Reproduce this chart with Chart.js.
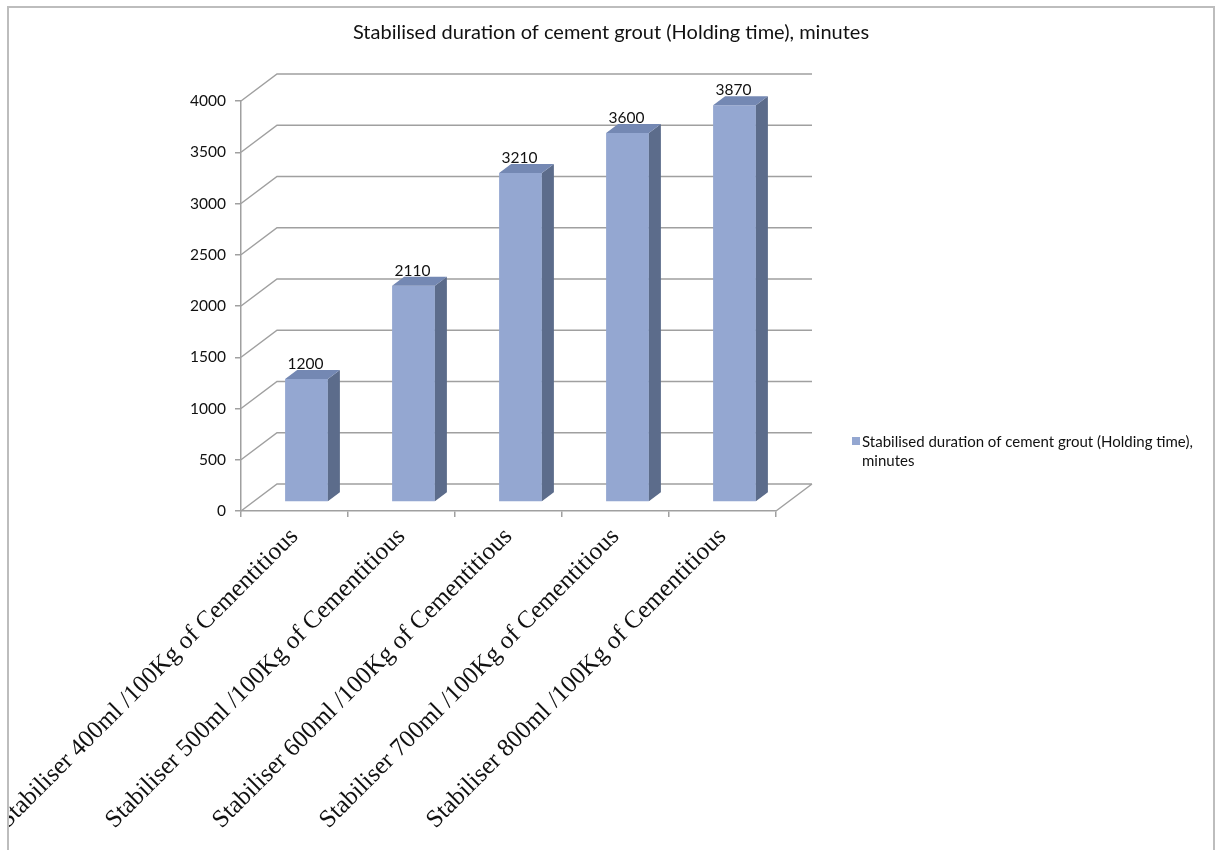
<!DOCTYPE html>
<html>
<head>
<meta charset="utf-8">
<script src="https://cdn.jsdelivr.net/npm/chart.js@4.4.1/dist/chart.umd.min.js"></script>
<style>
  html, body { margin: 0; padding: 0; background: #fff; overflow: hidden; }
  #frame { position: absolute; left: 7px; top: 6px; width: 1204px; height: 844px;
           border: 2px solid #bdbdbd; border-bottom: none; }
  #chart { display: block; }
</style>
</head>
<body>
<div id="frame"><canvas id="chart" width="1204" height="844"></canvas></div>
<script>
// ── Dados ──────────────────────────────────────────────────────────────────────
const categories = [
  'Stabiliser 400ml /100Kg of Cementitious',
  'Stabiliser 500ml /100Kg of Cementitious',
  'Stabiliser 600ml /100Kg of Cementitious',
  'Stabiliser 700ml /100Kg of Cementitious',
  'Stabiliser 800ml /100Kg of Cementitious',
];
const holdingTime = [1200, 2110, 3210, 3600, 3870];
const seriesName  = 'Stabilised duration of cement grout (Holding time), minutes';

// ── Estilo ─────────────────────────────────────────────────────────────────────
const SANS  = "Lato, 'Open Sans', sans-serif";
const SERIF = "'Liberation Serif', 'DejaVu Serif', serif";
const INK   = '#111';
const GRID  = '#a0a0a0';
const FRONT = '#94a7d1';
const SIDE  = '#5c6c8b';
const TOP   = '#7488b3';
const DEPTH = { x: 36, y: -27 };  // profundidade das paredes
const SHIFT = { x: 12, y: -9 };   // barras a um terço da profundidade
const BAR_D = { x: 12, y: -9 };   // profundidade da barra

// ── Paredes, faces laterais e rótulos (efeito 3D) ─────────────────────────────
const box3d = {
  id: 'box3d',
  beforeDatasetsDraw(chart) {
    const { ctx, chartArea: a, scales: { y } } = chart;
    ctx.save();
    ctx.strokeStyle = GRID;
    ctx.lineWidth = 1.5;
    ctx.beginPath();
    y.ticks.forEach(t => {
      const py = y.getPixelForValue(t.value);
      ctx.moveTo(a.left, py);
      ctx.lineTo(a.left + DEPTH.x, py + DEPTH.y);
      ctx.lineTo(a.right + DEPTH.x, py + DEPTH.y);
    });
    ctx.moveTo(a.right, a.bottom);
    ctx.lineTo(a.right + DEPTH.x, a.bottom + DEPTH.y);
    ctx.stroke();
    ctx.restore();
    ctx.save();
    ctx.translate(SHIFT.x, SHIFT.y);
  },
  afterDatasetsDraw(chart) {
    const { ctx } = chart;
    ctx.restore();
    const meta = chart.getDatasetMeta(0);
    ctx.save();
    meta.data.forEach((el, i) => {
      const w  = el.width;
      const x0 = el.x - w / 2 + SHIFT.x, x1 = el.x + w / 2 + SHIFT.x;
      const y0 = el.y + SHIFT.y,         y1 = el.base + SHIFT.y;
      ctx.fillStyle = SIDE;
      ctx.beginPath();
      ctx.moveTo(x1, y0);
      ctx.lineTo(x1 + BAR_D.x, y0 + BAR_D.y);
      ctx.lineTo(x1 + BAR_D.x, y1 + BAR_D.y);
      ctx.lineTo(x1, y1);
      ctx.closePath();
      ctx.fill();
      ctx.fillStyle = TOP;
      ctx.beginPath();
      ctx.moveTo(x0, y0);
      ctx.lineTo(x0 + BAR_D.x, y0 + BAR_D.y);
      ctx.lineTo(x1 + BAR_D.x, y0 + BAR_D.y);
      ctx.lineTo(x1, y0);
      ctx.closePath();
      ctx.fill();
      ctx.fillStyle = INK;
      ctx.font = `15.5px ${SANS}`;
      ctx.textAlign = 'center';
      ctx.textBaseline = 'alphabetic';
      ctx.fillText(String(holdingTime[i]), el.x + SHIFT.x - 1, y0 + BAR_D.y - 1);
    });
    ctx.restore();
  },
};

// ── Título centrado na tela e legenda em duas linhas ──────────────────────────
const frameText = {
  id: 'frameText',
  afterDraw(chart) {
    const { ctx, width } = chart;
    ctx.save();
    ctx.fillStyle = INK;
    ctx.font = `20px ${SANS}`;
    ctx.textAlign = 'center';
    ctx.textBaseline = 'middle';
    ctx.fillText(seriesName, width / 2, 25);

    const x = 843, y = 429;
    ctx.fillStyle = FRONT;
    ctx.fillRect(x, y, 8, 8);
    ctx.fillStyle = INK;
    ctx.font = `15px ${SANS}`;
    ctx.textAlign = 'left';
    const words = chart.data.datasets[0].label.split(' ');
    const lines = [];
    let line = '';
    words.forEach(wd => {
      const test = line ? line + ' ' + wd : wd;
      if (ctx.measureText(test).width > 345 && line) { lines.push(line); line = wd; }
      else line = test;
    });
    lines.push(line);
    lines.forEach((l, i) => ctx.fillText(l, x + 10, y + 5 + i * 19));
    ctx.restore();
  },
};

new Chart(document.getElementById('chart'), {
  type: 'bar',
  data: {
    labels: categories,
    datasets: [{
      label: seriesName,
      data: holdingTime,
      backgroundColor: FRONT,
      borderWidth: 0,
      categoryPercentage: 1,
      barPercentage: 0.4,
      clip: false,
    }],
  },
  options: {
    responsive: false,
    animation: false,
    layout: { padding: { left: 0, right: 437, top: 93, bottom: 0 } },
    plugins: {
      legend: { display: false },
      tooltip: { enabled: false },
      title: { display: false },
    },
    scales: {
      x: {
        offset: true,
        grid: { drawOnChartArea: false, tickLength: 6, color: GRID, lineWidth: 1.5, offset: true },
        border: { color: GRID, width: 1.5 },
        ticks: {
          color: INK,
          font: { family: SERIF, size: 25 },
          minRotation: 45, maxRotation: 45,
          autoSkip: false,
          padding: 5,
        },
        afterFit(scale) { scale.height = 341; scale.paddingLeft = 0; scale.paddingRight = 0; },
      },
      y: {
        min: 0, max: 4000,
        grid: { drawOnChartArea: false, tickLength: 6, color: GRID, lineWidth: 1.5 },
        border: { color: GRID, width: 1.5 },
        ticks: {
          stepSize: 500,
          color: INK,
          font: { family: SANS, size: 15.5 },
          padding: 9,
          callback: v => String(v),
        },
        afterFit(scale) { scale.width = 232; },
      },
    },
  },
  plugins: [box3d, frameText],
});
</script>
</body>
</html>
